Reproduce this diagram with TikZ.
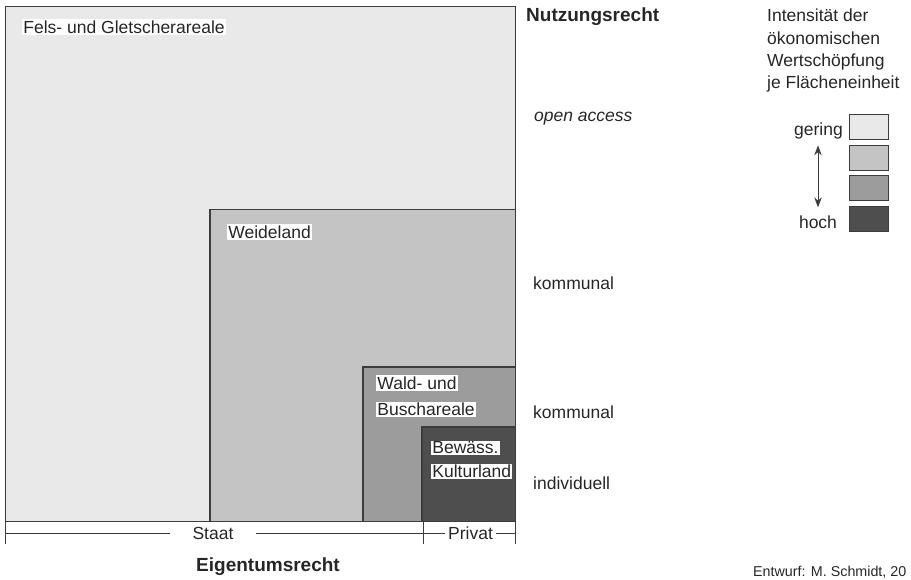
\documentclass[tikz,border=0pt]{standalone}
\usepackage{fontspec}
\setmainfont{Liberation Sans}
\usetikzlibrary{positioning,arrows.meta}

\definecolor{felsgray}{HTML}{E9E9E9}
\definecolor{weidegray}{HTML}{C4C4C4}
\definecolor{waldgray}{HTML}{9C9C9C}
\definecolor{kulturgray}{HTML}{4E4E4E}
\definecolor{linegray}{HTML}{3C3C3C}
\definecolor{textgray}{HTML}{262626}

\tikzset{
  area/.style={draw=linegray, line width=1.1pt},
  areatext/.style={fill=white, inner sep=1.2pt, anchor=west, text=textgray,
    font=\fontsize{17.5}{21}\selectfont},
  righttext/.style={anchor=west, inner sep=0pt, text=textgray,
    font=\fontsize{17.5}{21}\selectfont},
  headtext/.style={inner sep=0pt, text=textgray,
    font=\fontsize{19}{23}\selectfont\bfseries},
  legbox/.style={draw=linegray, line width=0.9pt, minimum width=39pt,
    minimum height=25pt, inner sep=0pt},
  axisline/.style={draw=linegray, line width=0.8pt}
}

\begin{document}
\begin{tikzpicture}[x=1pt, y=-1pt, >={Stealth[length=10pt,width=7.5pt]}]
  \useasboundingbox (0,0) rectangle (911,579);

  % Flaechen (ineinander geschachtelt)
  \draw[area, fill=felsgray]   (5.5,6.5) rectangle (515.5,521.5);
  \draw[area, fill=weidegray]  (210,209.5) rectangle (515.5,521.5);
  \draw[area, fill=waldgray]   (363,367) rectangle (515.5,521.5);
  \draw[area, fill=kulturgray] (422,427) rectangle (515.5,521.5);

  % Beschriftung der Flaechen
  \node[areatext] (fels) at (22,27) {Fels- und Gletscherareale};
  \node[areatext] (weide) at (227,232) {Weideland};
  \node[areatext] (wald) at (376,383) {Wald- und};
  \node[areatext, below=11pt of wald.south west, anchor=north west] (busch) {Buschareale};
  \node[areatext] (bew) at (431,448) {Bewäss.};
  \node[areatext, below=8pt of bew.south west, anchor=north west] (kultur) {Kulturland};

  % Nutzungsrecht
  \node[headtext, anchor=west] (nutz) at (526,17) {Nutzungsrecht};
  \node[righttext, font=\fontsize{17.5}{21}\selectfont\itshape] (open) at (534,119) {open access};
  \node[righttext] (komm1) at (533,283) {kommunal};
  \node[righttext] (komm2) at (533,412) {kommunal};
  \node[righttext] (indiv) at (533,483) {individuell};

  % Eigentumsrecht
  \coordinate (tickL) at (5.5,533);
  \coordinate (tickM) at (423,533);
  \coordinate (tickR) at (515.5,533);
  \foreach \t in {tickL,tickM,tickR}
    \draw[axisline] ([yshift=-11pt]\t) -- ([yshift=12pt]\t);
  \node[righttext, anchor=center, inner xsep=22pt] (staat) at (213,533) {Staat};
  \node[righttext, anchor=center, inner xsep=3pt] (privat) at (470.5,533) {Privat};
  \draw[axisline] (tickL) -- (staat.west);
  \draw[axisline] (staat.east) -- (tickM);
  \draw[axisline] (tickM) -- (privat.west);
  \draw[axisline] (privat.east) -- (tickR);
  \node[headtext] (eigen) at (268,567) {Eigentumsrecht};

  % Legende
  \node[righttext, anchor=north west, align=left,
    font=\fontsize{17.5}{22.3}\selectfont] (legtitle) at (767,9)
    {Intensität der\\ökonomischen\\Wertschöpfung\\je Flächeneinheit};
  \foreach \i/\c in {1/felsgray,2/weidegray,3/waldgray,4/kulturgray}
    \node[legbox, fill=\c] (leg\i) at (868.5,{127+30.5*(\i-1)}) {};
  \node[righttext, anchor=east] (gering) at (843,131) {gering};
  \node[righttext, anchor=center] (hoch) at (818,222) {hoch};
  \draw[<->, draw=linegray, fill=linegray, line width=1pt, shorten <=6pt, shorten >=8pt]
    (gering.south -| hoch) -- (hoch.north);

  \node[righttext, font=\fontsize{14.3}{17}\selectfont] (entwurf) at (753,572) {Entwurf: M. Schmidt, 20};

\end{tikzpicture}
\end{document}
